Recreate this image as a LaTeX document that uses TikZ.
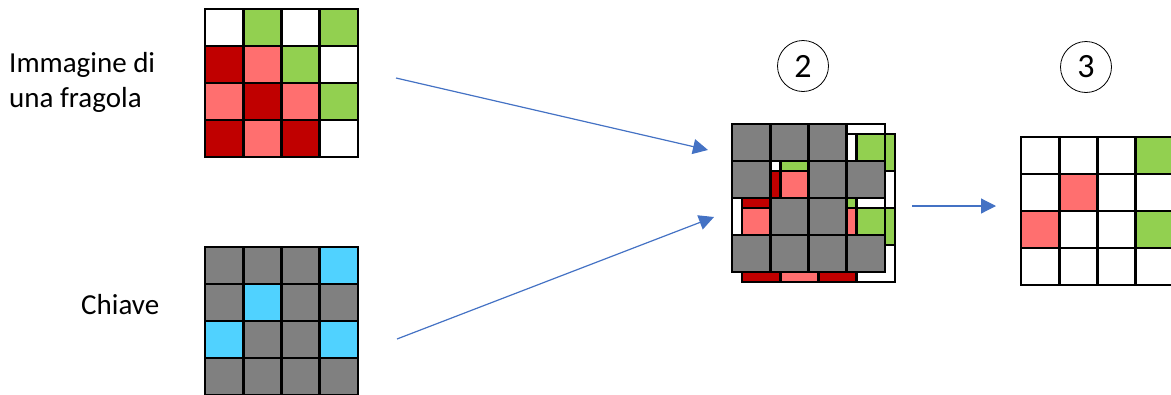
\documentclass[tikz,border=0pt]{standalone}
\usepackage{fontspec}
\setmainfont{Carlito}
\usetikzlibrary{arrows.meta}
\definecolor{dred}{HTML}{C00000}
\definecolor{salmon}{HTML}{FF6F6F}
\definecolor{lgreen}{HTML}{92D050}
\definecolor{kgray}{HTML}{808080}
\definecolor{kcyan}{HTML}{50D2FF}
\definecolor{arrblue}{HTML}{4472C4}
\newcommand\cellrow[3]{%
  \foreach \c [count=\k from 0] in {#3} {
    \path[cellstyle, fill=\c] ({#1+\k*38.25},{#2}) rectangle ++(38.25,37);
  }}
\newcommand\gridfour[6]{%
  \cellrow{#1}{#2}{#3}
  \cellrow{#1}{#2+37}{#4}
  \cellrow{#1}{#2+74}{#5}
  \cellrow{#1}{#2+111}{#6}}
\begin{document}
\begin{tikzpicture}[x=1pt,y=-1pt,
  cellstyle/.style={draw=black, line width=2.7pt},
  lbl/.style={font=\fontsize{29}{34}\selectfont, anchor=base west, inner sep=0pt},
  num/.style={circle, draw=black, line width=0.8pt, minimum size=51pt, inner sep=0pt, font=\fontsize{34}{36}\selectfont},
  arr/.style={draw=arrblue, line width=1.2pt, -{Triangle[length=15pt,width=15pt]}}]
\useasboundingbox (0,0) rectangle (1171,394);
% labels
\node[lbl] (img1) at (9,72) {Immagine di};
\node[lbl] (img2) at (9,107) {una fragola};
\node[lbl] (key) at (81,314) {Chiave};
% strawberry
\gridfour{205}{9}{white,lgreen,white,lgreen}{dred,salmon,lgreen,white}{salmon,dred,salmon,lgreen}{dred,salmon,dred,white}
% key
\gridfour{205}{247}{kgray,kgray,kgray,kcyan}{kgray,kcyan,kgray,kgray}{kcyan,kgray,kgray,kcyan}{kgray,kgray,kgray,kgray}
% overlay: back image then key with holes
\gridfour{742}{134}{white,lgreen,white,lgreen}{dred,salmon,lgreen,white}{salmon,dred,salmon,lgreen}{dred,salmon,dred,white}
\gridfour{732}{124}{kgray,kgray,kgray,none}{kgray,none,kgray,kgray}{none,kgray,kgray,none}{kgray,kgray,kgray,kgray}
% result
\gridfour{1021}{137}{white,white,white,lgreen}{white,salmon,white,white}{salmon,white,white,lgreen}{white,white,white,white}
% circled numbers
\node[num] (n2) at (803,66) {2};
\node[num] (n3) at (1086,67) {3};
% arrow coordinates
\coordinate (a1s) at (396,78);
\coordinate (a1e) at (708,150);
\coordinate (a2s) at (397,339);
\coordinate (a2e) at (714,217);
\coordinate (a3s) at (912,206);
\coordinate (a3e) at (996,206);
\draw[arr] (a1s) -- (a1e);
\draw[arr] (a2s) -- (a2e);
\draw[arr] (a3s) -- (a3e);
\end{tikzpicture}
\end{document}
